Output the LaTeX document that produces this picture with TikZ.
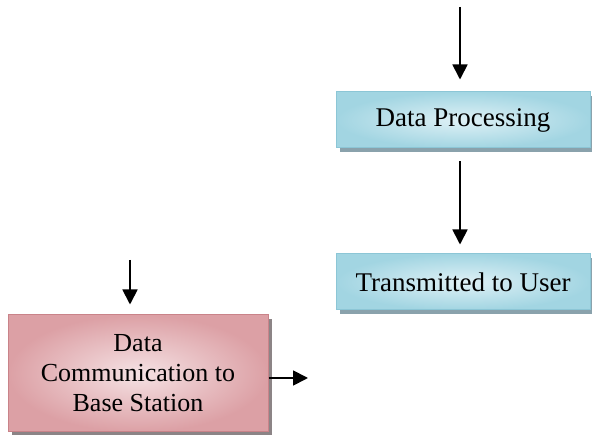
\documentclass[tikz,border=0pt]{standalone}
\usepackage{fontspec}
\setmainfont{Liberation Serif}
\usetikzlibrary{arrows.meta,shadows}
\definecolor{bluefill}{HTML}{DFF1F6}
\definecolor{blueedge}{HTML}{A2D5E2}
\definecolor{blueline}{HTML}{8CC6D6}
\definecolor{blueshadow}{HTML}{8AA2AC}
\definecolor{redfill}{HTML}{F5E2E4}
\definecolor{rededge}{HTML}{DCA0A5}
\definecolor{redline}{HTML}{C98389}
\definecolor{redshadow}{HTML}{8C8486}
\tikzset{
  bluebox/.style={draw=blueline, line width=1pt, inner color=bluefill, outer color=blueedge,
    minimum width=254pt, minimum height=56pt, font=\fontsize{27}{32}\selectfont,
    drop shadow={shadow xshift=4pt, shadow yshift=-4pt, fill=blueshadow, opacity=1}},
  redbox/.style={draw=redline, line width=1pt, inner color=redfill, outer color=rededge,
    minimum width=260pt, minimum height=117pt, align=center,
    font=\fontsize{26}{30}\selectfont,
    drop shadow={shadow xshift=4pt, shadow yshift=-4pt, fill=redshadow, opacity=1}},
  flow/.style={line width=1.8pt, -{Triangle[width=15pt,length=15pt]}}
}
\begin{document}
\begin{tikzpicture}[x=1pt,y=-1pt]
  \useasboundingbox (0,0) rectangle (592,435);
  % process boxes
  \node[bluebox] (dp) at (463,120) {Data Processing};
  \node[bluebox] (tu) at (463,282) {Transmitted to User};
  \node[redbox] (dc) at (138,373.5) {Data\\Communication to\\Base Station};
  % free ends of the connectors
  \coordinate (intop) at (460,7);
  \coordinate (inred) at (130,260);
  \coordinate (outred) at (308,378);
  % connectors
  \draw[flow] (intop) -- ([xshift=-3pt,yshift=12pt]dp.north);
  \draw[flow] ([xshift=-3pt,yshift=-13pt]dp.south) -- ([xshift=-3pt,yshift=9pt]tu.north);
  \draw[flow] (inred) -- ([xshift=-8pt,yshift=10pt]dc.north);
  \draw[flow] (dc.east |- outred) -- (outred);
\end{tikzpicture}
\end{document}
